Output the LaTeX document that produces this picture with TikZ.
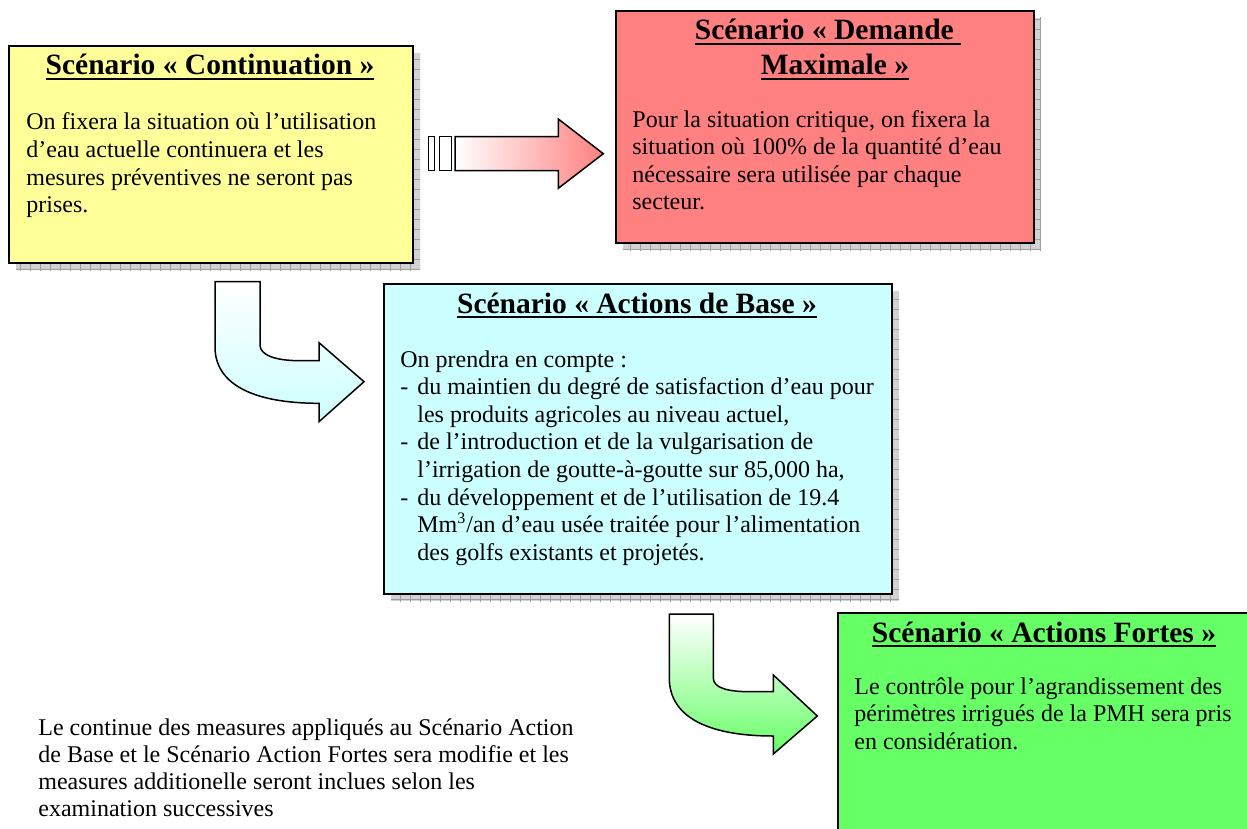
\documentclass[tikz,border=0pt]{standalone}
\usepackage{fontspec}
\setmainfont{Liberation Serif}
\usetikzlibrary{patterns.meta}
\definecolor{yellowbg}{HTML}{FFFF99}
\definecolor{redbg}{HTML}{FF8080}
\definecolor{cyanbg}{HTML}{CCFFFF}
\definecolor{greenbg}{HTML}{66FF66}
\newcommand\myul[1]{\setbox0=\hbox{#1}\leavevmode\rlap{\rule[-2.6pt]{\wd0}{1pt}}\box0}
\newcommand\mybody[2]{\parbox[t]{#1}{\fontsize{12}{13.8}\selectfont #2}}
\newcommand\mydash{\makebox[8.5pt][l]{-}}
\newcommand\myind{\hspace*{8.5pt}}
\begin{document}
\begin{tikzpicture}[x=0.5pt,y=-0.5pt,
  shadowfill/.style={fill=gray!35,
    postaction={pattern={Lines[distance=5pt,angle=0,line width=0.4pt]},pattern color=gray!75},
    postaction={pattern={Lines[distance=5pt,angle=90,line width=0.4pt]},pattern color=gray!75}},
  scenbox/.style={draw=black,line width=1pt,anchor=north west,inner sep=0pt},
  titletxt/.style={anchor=base,inner sep=0pt,align=center,font=\fontsize{14.75}{17.5}\selectfont\bfseries},
  bodytxt/.style={anchor=base west,inner sep=0pt},
  blockarrow/.style={draw=black,line width=0.75pt,line join=miter}]
\useasboundingbox (0,0) rectangle (1247,829);
\clip (0,0) rectangle (1247,829);

% shadows
\fill[shadowfill] (16,53) rectangle (420,270);
\fill[shadowfill] (623,18) rectangle (1041,250);
\fill[shadowfill] (391,291) rectangle (899,601);

% boxes
\node[scenbox,fill=yellowbg,minimum width=202pt,minimum height=108.5pt] (cont) at (8,45) {};
\node[scenbox,fill=redbg,minimum width=209pt,minimum height=116pt] (dmax) at (615,10) {};
\node[scenbox,fill=cyanbg,minimum width=254pt,minimum height=155pt] (base) at (383,283) {};
\node[scenbox,fill=greenbg,minimum width=207pt,minimum height=125pt] (fort) at (837,612) {};

% titles
\node[titletxt] (conttitle) at (210,75) {\myul{Scénario « Continuation »}};
\node[titletxt] (dmaxtitle) at (828,75) {\myul{Scénario « Demande\ }\\\hspace*{7pt}\myul{Maximale »}};
\node[titletxt] (basetitle) at (637,313) {\myul{Scénario « Actions de Base »}};
\node[titletxt] (forttitle) at (1044,642) {\myul{Scénario « Actions Fortes »}};

% bodies
\node[bodytxt] (contbody) at (26,130) {\mybody{300pt}{On fixera la situation où l’utilisation\\
d’eau actuelle continuera et les\\
mesures préventives ne seront pas\\
prises.}};
\node[bodytxt] (dmaxbody) at (632,127) {\mybody{300pt}{Pour la situation critique, on fixera la\\
situation où 100\% de la quantité d’eau\\
nécessaire sera utilisée par chaque\\
secteur.}};
\node[bodytxt] (basebody) at (400,367) {\mybody{300pt}{On prendra en compte :\\
\mydash du maintien du degré de satisfaction d’eau pour\\
\myind les produits agricoles au niveau actuel,\\
\mydash de l’introduction et de la vulgarisation de\\
\myind l’irrigation de goutte-à-goutte sur 85,000 ha,\\
\mydash du développement et de l’utilisation de 19.4\\
\myind Mm\textsuperscript{3}/an d’eau usée traitée pour l’alimentation\\
\myind des golfs existants et projetés.}};
\node[bodytxt] (fortbody) at (854,694) {\mybody{300pt}{Le contrôle pour l’agrandissement des\\
périmètres irrigués de la PMH sera pris\\
en considération.}};
\node[bodytxt] (note) at (38,735) {\parbox[t]{320pt}{\fontsize{12}{13.5}\selectfont Le continue des measures appliqués au Scénario Action\\
de Base et le Scénario Action Fortes sera modifie et les\\
measures additionelle seront inclues selon les\\
examination successives}};

% red straight arrow
\draw[blockarrow,fill=white] (428.3,136.7) rectangle (434.3,170.7);
\draw[blockarrow,fill=white] (439.3,136.7) rectangle (451.7,170.7);
\draw[blockarrow,left color=white,right color=redbg]
  (455,136.7) -- (558.3,136.7) -- (558.3,119) -- (603.3,153.7) -- (558.3,188.3)
  -- (558.3,170.7) -- (455,170.7) -- cycle;

% cyan bent arrow
\draw[blockarrow,top color=white,bottom color=cyanbg]
  (215,281.7) -- (260,281.7) -- (260,345)
  .. controls (260,355) and (275,360.7) .. (300,360.7)
  -- (319,360.7) -- (319,342.7) -- (364,381.7) -- (319,421.7) -- (319,403.3)
  .. controls (251,403.3) and (215,383) .. (215,347) -- cycle;

% green bent arrow
\draw[blockarrow,top color=white,bottom color=greenbg]
  (669.3,614) -- (713.3,614) -- (713.3,678)
  .. controls (713.3,688) and (728,691.7) .. (750,691.7)
  -- (773.3,691.7) -- (773.3,675) -- (817.3,716) -- (773.3,754) -- (773.3,736)
  .. controls (705.7,736) and (669.3,715.7) .. (669.3,678) -- cycle;
\end{tikzpicture}
\end{document}
